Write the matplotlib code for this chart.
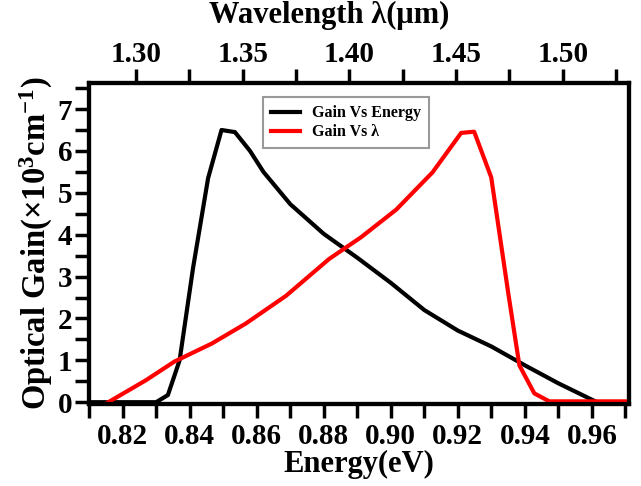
import matplotlib
matplotlib.use("Agg")
import matplotlib.pyplot as plt
from matplotlib.ticker import MultipleLocator

# Gain vs photon energy (bottom axis)
energy = [0.810, 0.830, 0.8335, 0.837, 0.841, 0.8455, 0.8495, 0.8535, 0.858, 0.862,
          0.870, 0.880, 0.890, 0.900, 0.910, 0.920, 0.930, 0.940, 0.950, 0.9615, 0.970]
gain_e = [0.0, 0.0, 0.17, 1.0, 3.2, 5.35, 6.5, 6.45, 6.0, 5.5,
          4.73, 4.02, 3.45, 2.85, 2.2, 1.71, 1.33, 0.88, 0.45, 0.0, 0.0]

# Gain vs wavelength (top axis)
wavelength = [1.287, 1.3045, 1.318, 1.3355, 1.3515, 1.3703, 1.3905, 1.4055, 1.422,
              1.439, 1.4524, 1.4585, 1.4665, 1.4745, 1.4797, 1.4867, 1.4937, 1.531]
gain_l = [0.0, 0.52, 0.97, 1.4, 1.88, 2.54, 3.42, 3.94, 4.6,
          5.49, 6.43, 6.46, 5.37, 2.6, 0.88, 0.21, 0.02, 0.02]

plt.rcParams['font.family'] = ['Liberation Serif', 'DejaVu Serif']
plt.rcParams['font.weight'] = 'bold'
plt.rcParams['mathtext.fontset'] = 'custom'
plt.rcParams['mathtext.rm'] = 'Liberation Serif:bold'
plt.rcParams['mathtext.it'] = 'Liberation Serif:bold'
plt.rcParams['mathtext.bf'] = 'Liberation Serif:bold'

fig = plt.figure(figsize=(6.41, 4.86), dpi=100)
ax = fig.add_axes([0.139, 0.169, 0.842, 0.660])
ax2 = ax.twiny()

l1, = ax.plot(energy, gain_e, color='black', lw=3, label='Gain Vs Energy')
l2, = ax2.plot(wavelength, gain_l, color='red', lw=3, label='Gain Vs λ')

ax.set_xlim(0.81, 0.971)
ax2.set_xlim(1.278, 1.531)
ax.set_ylim(-0.04, 7.62)

ax.xaxis.set_major_locator(MultipleLocator(0.02))
ax.xaxis.set_minor_locator(MultipleLocator(0.01))
ax.yaxis.set_major_locator(MultipleLocator(1))
ax.yaxis.set_minor_locator(MultipleLocator(0.5))
ax2.xaxis.set_major_locator(MultipleLocator(0.05))
ax2.xaxis.set_minor_locator(MultipleLocator(0.025))
ax.xaxis.set_major_formatter(plt.FormatStrFormatter('%.2f'))
ax2.xaxis.set_major_formatter(plt.FormatStrFormatter('%.2f'))

for a in (ax, ax2):
    for s in a.spines.values():
        s.set_linewidth(3)
    a.tick_params(which='both', direction='out', length=10, width=2.5, labelsize=21)
ax.tick_params(axis='x', which='both', top=False)
ax.tick_params(axis='y', which='both', right=False, pad=2)
ax2.tick_params(axis='x', which='both', bottom=False, pad=1)

ax.set_xlabel('Energy(eV)', fontsize=22, fontweight='bold', labelpad=0)
ax.set_ylabel(r'Optical Gain($\times$10$^{3}$cm$^{-1}$)', fontsize=23.5,
              fontweight='bold', labelpad=2)
ax2.set_xlabel('Wavelength λ(μm)', fontsize=22, fontweight='bold')
ax2.xaxis.set_label_coords(0.445, 1.165)
ax2.xaxis.label.set_va('bottom')

leg = ax2.legend(handles=[l1, l2], loc='upper left', bbox_to_anchor=(0.322, 0.956),
                 borderaxespad=0, fontsize=11.5, frameon=True, fancybox=False,
                 edgecolor='gray', handlelength=1.8, borderpad=0.5, labelspacing=0.2)
leg.get_frame().set_linewidth(1.5)
for t in leg.get_texts():
    t.set_fontweight('bold')

fig.savefig('out.png', dpi=100)
